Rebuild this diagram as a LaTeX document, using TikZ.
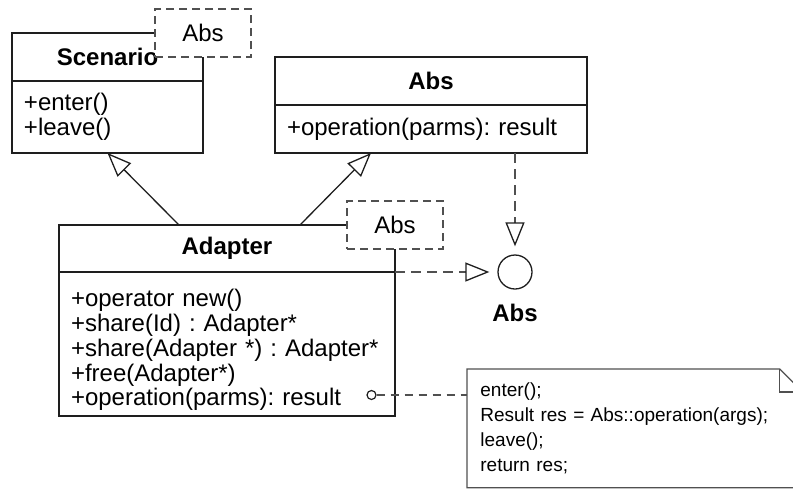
\documentclass[tikz,border=0pt]{standalone}
\usepackage{fontspec}
\setmainfont{Liberation Sans}
\frenchspacing
\usetikzlibrary{positioning,arrows.meta,calc}
\definecolor{linegray}{RGB}{30,30,30}
\definecolor{dashgray}{RGB}{80,80,80}

\begin{document}
\begin{tikzpicture}[
      x=0.5pt, y=-0.5pt,
      font=\fontsize{12}{12.4}\selectfont,
      head/.style={draw=linegray, line width=0.65pt, fill=white,
                   font=\fontsize{12}{12.4}\selectfont\bfseries,
                   inner sep=0pt, outer sep=0pt, anchor=north west},
      body/.style={draw=linegray, line width=0.65pt, fill=white,
                   align=left, inner xsep=6pt, inner ysep=0pt, outer sep=0pt},
      tmpl/.style={draw=dashgray, line width=0.65pt, fill=white,
                   dash pattern=on 4pt off 2.5pt, inner sep=0pt,
                   minimum width=48pt, minimum height=24pt},
      iface/.style={circle, draw=linegray, line width=0.65pt,
                    inner sep=0pt, minimum size=17pt},
      ilabel/.style={font=\fontsize{12}{12.4}\selectfont\bfseries},
      opdot/.style={circle, draw=linegray, line width=0.6pt,
                    inner sep=0pt, minimum size=4.5pt},
      notebox/.style={anchor=north west, align=left, inner xsep=6.5pt,
                      text width=154.5pt, minimum width=167.5pt,
                      minimum height=59pt,
                      font=\fontsize{9.5}{12.5}\selectfont},
      noteline/.style={draw=dashgray, line width=0.65pt},
      gen/.style={draw=linegray, line width=0.65pt,
                  -{Triangle[open, length=12pt, width=9.5pt]}},
      real/.style={draw=dashgray, line width=0.65pt,
                   dash pattern=on 5pt off 3pt,
                   -{Triangle[open, length=12pt, width=9.5pt, color=linegray]},
                   shorten >=4pt},
      link/.style={draw=dashgray, line width=0.65pt,
                   dash pattern=on 4pt off 3pt}
    ]
    \useasboundingbox (0,0) rectangle (793,489);
    \clip (0,0) rectangle (793,489);
    % classes
    \node[head, minimum width=95.5pt, minimum height=24pt] (scenh) at (12,33) {Scenario};
    \node[body, text width=83.5pt, minimum height=36pt, below=0pt of scenh] (scenb)
      {+enter()\\+leave()};
    \node[head, minimum width=156pt, minimum height=24pt] (absh) at (275,57) {Abs};
    \node[body, text width=144pt, minimum height=24pt, below=0pt of absh] (absb)
      {+operation(parms): result};
    \node[head, minimum width=168pt, minimum height=23.5pt] (adaph) at (59,225) {Adapter};
    \node[body, text width=156pt, minimum height=72pt, text height=14.8pt,
          below=0pt of adaph] (adapb)
      {+operator new()\\+share(Id) : Adapter*\\+share(Adapter *) : Adapter*\\
       +free(Adapter*)\\+operation(parms): result};
    % template parameters
    \node[tmpl] (scent) at (scenh.north east) {Abs};
    \node[tmpl] (adapt) at (adaph.north east) {Abs};
    % interface
    \node[iface] (absi) at (515,272) {};
    \node[ilabel] (absl) at (515,313) {Abs};
    % note
    \node[opdot] (opd) at (371.5,395) {};
    \node[notebox] (note) at (467,369)
      {enter();\\Result res = Abs::operation(args);\\leave();\\return res;};
    \draw[noteline] (note.north west) -- ([xshift=-11.5pt]note.north east)
      -- ([yshift=-11.5pt]note.north east) -- (note.south east)
      -- (note.south west) -- cycle;
    \draw[noteline] ([xshift=-11.5pt]note.north east)
      |- ([yshift=-11.5pt]note.north east);
    % generalisation
    \draw[gen] ([xshift=-24pt]adaph.north) -- (scenb.south);
    \draw[gen] ([xshift=36.5pt]adaph.north) -- ([xshift=-30pt]absb.south);
    % realisation
    \draw[real] (adaph.south east) -- (absi);
    \draw[real] (absi |- absb.south) -- (absi);
    \draw[link] (opd) -- (opd -| note.west);
  \end{tikzpicture}
\end{document}
